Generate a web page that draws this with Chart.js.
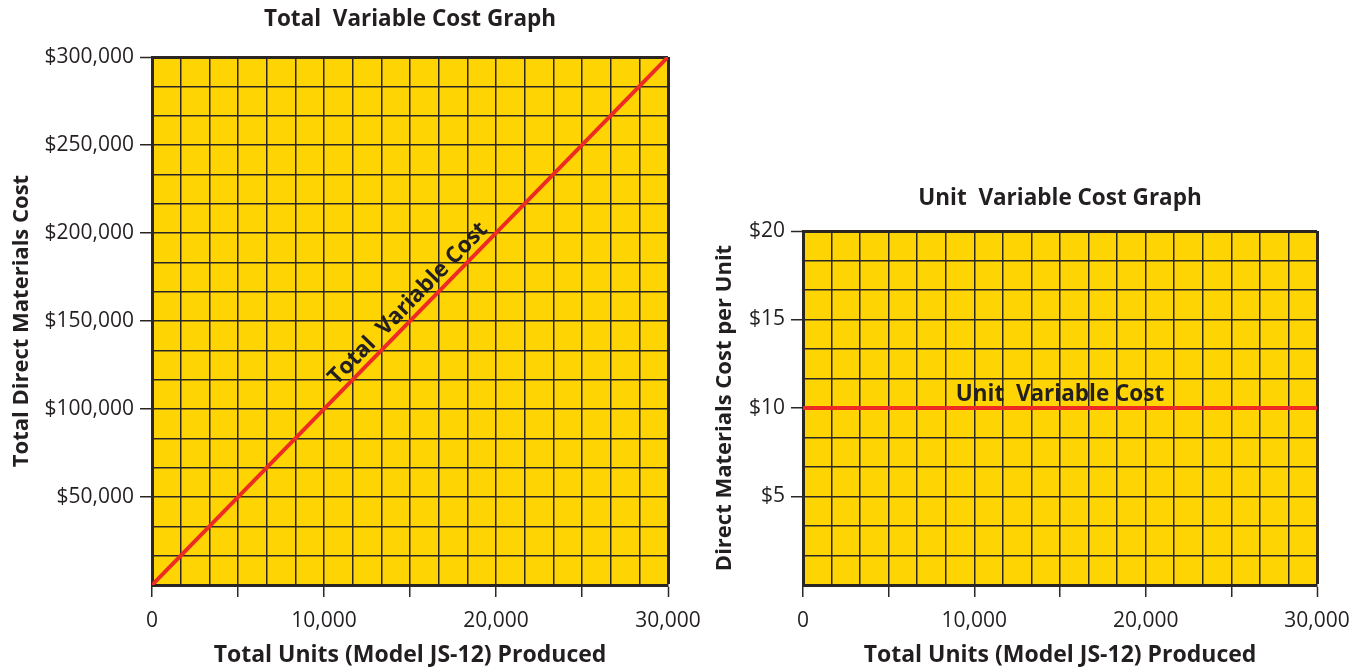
<!DOCTYPE html>
<html>
<head>
<meta charset="utf-8">
<title>Variable Cost Graphs</title>
<script src="https://cdn.jsdelivr.net/npm/chart.js@4/dist/chart.umd.min.js"></script>
<style>
    html, body { margin: 0; padding: 0; background: #ffffff; }
    body { width: 1360px; height: 669px; position: relative; overflow: hidden; }
    .box { position: absolute; }
    #totalBox { left: 0; top: 0; width: 740px; height: 669px; }
    #unitBox { left: 700px; top: 174px; width: 700px; height: 495px; }
</style>
</head>
<body>
<div class="box" id="totalBox"><canvas id="totalChart"></canvas></div>
<div class="box" id="unitBox"><canvas id="unitChart"></canvas></div>

<script>
// data
var unitsProduced = [0, 30000];
var totalVariableCost = [0, 300000];
var unitVariableCost = [10, 10];

var unitTickLabels = ['0', '10,000', '20,000', '30,000'];
var totalCostTickLabels = ['$50,000', '$100,000', '$150,000', '$200,000', '$250,000', '$300,000'];
var unitCostTickLabels = ['$5', '$10', '$15', '$20'];

var FONT = "'Open Sans', 'Noto Sans', sans-serif";
var TEXT = '#231f20';
var GRID = '#2b2623';
var YELLOW = '#fed402';
var RED = '#ee2a24';

// yellow plot background
var plotBackground = {
    id: 'plotBackground',
    beforeDraw: function (chart) {
        var a = chart.chartArea;
        var ctx = chart.ctx;
        ctx.save();
        ctx.fillStyle = YELLOW;
        ctx.fillRect(a.left, a.top, a.right - a.left, a.bottom - a.top);
        ctx.restore();
    }
};

// text written along the cost line
var lineLabel = {
    id: 'lineLabel',
    afterDatasetsDraw: function (chart, args, opts) {
        var meta = chart.getDatasetMeta(0);
        var p0 = meta.data[0], p1 = meta.data[meta.data.length - 1];
        var angle = Math.atan2(p1.y - p0.y, p1.x - p0.x);
        var x = p0.x + (p1.x - p0.x) * opts.at;
        var y = p0.y + (p1.y - p0.y) * opts.at;
        var ctx = chart.ctx;
        ctx.save();
        ctx.translate(x, y);
        ctx.rotate(angle);
        ctx.font = 'bold ' + opts.size + 'px ' + FONT;
        ctx.fillStyle = TEXT;
        ctx.textAlign = 'center';
        ctx.textBaseline = 'alphabetic';
        ctx.fillText(opts.text, 0, -opts.lift);
        ctx.restore();
    }
};

// every 3rd grid line gets a tick mark outside the plot
function gridOptions(count, skipFirstTick) {
    return {
        color: GRID,
        lineWidth: function (c) { return (c.index === count - 1) ? 3 : 1.5; },
        drawTicks: true,
        tickLength: 12,
        tickWidth: 1.5,
        tickColor: function (c) {
            if (skipFirstTick && c.index === 0) return 'rgba(0,0,0,0)';
            return c.index % 3 === 0 ? GRID : 'rgba(0,0,0,0)';
        }
    };
}

function makeChart(canvasId, opt) {
    var points = [];
    for (var i = 0; i < unitsProduced.length; i++) {
        points.push({ x: unitsProduced[i], y: opt.values[i] });
    }
    return new Chart(document.getElementById(canvasId), {
        type: 'scatter',
        data: {
            datasets: [{
                data: points,
                showLine: true,
                borderColor: RED,
                borderWidth: 4,
                pointRadius: 0,
                fill: false
            }]
        },
        options: {
            responsive: true,
            maintainAspectRatio: false,
            animation: false,
            devicePixelRatio: 1,
            layout: { padding: { left: 0, right: opt.padRight, top: 0, bottom: 0 } },
            plugins: {
                legend: { display: false },
                tooltip: { enabled: false },
                title: {
                    display: true,
                    text: opt.title,
                    fullSize: false,
                    color: TEXT,
                    font: { family: FONT, size: 22.5, weight: 'bold', lineHeight: 1.2 },
                    padding: opt.titlePad
                },
                lineLabel: opt.label
            },
            scales: {
                x: {
                    type: 'linear',
                    min: 0,
                    max: 30000,
                    afterFit: function (s) { s.height = 84; },
                    grid: gridOptions(19, false),
                    border: { display: true, color: GRID, width: 3 },
                    ticks: {
                        count: 19,
                        autoSkip: false,
                        maxRotation: 0,
                        padding: 11,
                        color: TEXT,
                        font: { family: FONT, size: 21 },
                        callback: function (v, index) {
                            return index % 6 === 0 ? unitTickLabels[index / 6] : '';
                        }
                    },
                    title: {
                        display: true,
                        text: 'Total Units (Model JS-12) Produced',
                        color: TEXT,
                        font: { family: FONT, size: 23, weight: 'bold', lineHeight: 1.2 },
                        padding: { top: 0, bottom: 0 }
                    }
                },
                y: {
                    type: 'linear',
                    min: 0,
                    max: opt.yMax,
                    afterFit: function (s) { s.width = opt.axisWidth; },
                    grid: gridOptions(opt.yCount, true),
                    border: { display: true, color: GRID, width: 3 },
                    ticks: {
                        count: opt.yCount,
                        autoSkip: false,
                        padding: 6,
                        color: TEXT,
                        font: { family: FONT, size: 21 },
                        callback: function (v, index) {
                            return (index % 3 === 0 && index > 0) ? opt.yLabels[index / 3 - 1] : '';
                        }
                    },
                    title: {
                        display: true,
                        text: opt.yTitle,
                        color: TEXT,
                        font: { family: FONT, size: 22, weight: 'bold', lineHeight: 1.2 },
                        padding: { top: opt.yTitlePad, bottom: opt.yTitlePad }
                    }
                }
            }
        },
        plugins: [plotBackground, lineLabel]
    });
}

makeChart('totalChart', {
    values: totalVariableCost,
    title: 'Total  Variable Cost Graph',
    titlePad: { top: 6.5, bottom: 23.5 },
    yTitle: 'Total Direct Materials Cost',
    yLabels: totalCostTickLabels,
    yMax: 300000,
    yCount: 19,
    axisWidth: 152,
    padRight: 72,
    yTitlePad: 9,
    label: { text: 'Total  Variable Cost', at: 0.515, lift: 7, size: 22.5 }
});

makeChart('unitChart', {
    values: unitVariableCost,
    title: 'Unit  Variable Cost Graph',
    titlePad: { top: 11.5, bottom: 18.5 },
    yTitle: 'Direct Materials Cost per Unit',
    yLabels: unitCostTickLabels,
    yMax: 20,
    yCount: 13,
    axisWidth: 103,
    padRight: 83,
    yTitlePad: 12,
    label: { text: 'Unit  Variable Cost', at: 0.5, lift: 7, size: 22.5 }
});
</script>
</body>
</html>
